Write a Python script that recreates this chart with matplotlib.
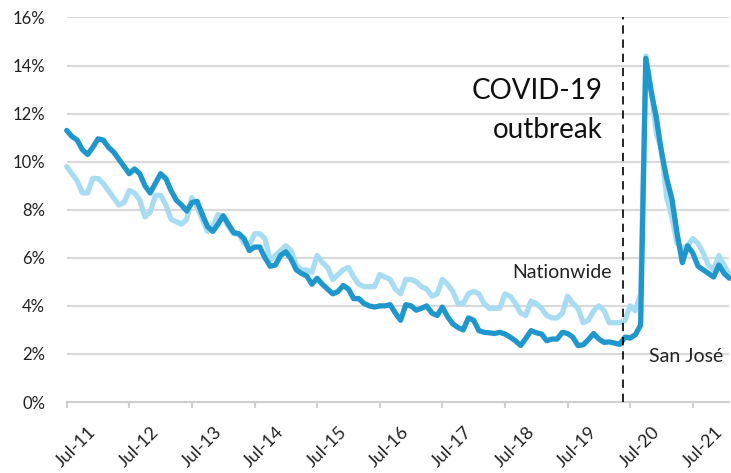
import matplotlib
matplotlib.use('Agg')
import matplotlib.pyplot as plt
import matplotlib.transforms as mtransforms
import numpy as np

plt.rcParams['font.family'] = ['Lato', 'DejaVu Sans']

# Monthly unemployment rate (%), Jan 2011 - Aug 2021
nationwide = [
    9.8, 9.5, 9.2, 8.7, 8.7, 9.3, 9.3, 9.1, 8.8, 8.5, 8.2, 8.3,
    8.8, 8.7, 8.4, 7.7, 7.9, 8.6, 8.6, 8.2, 7.6, 7.5, 7.4, 7.6,
    8.5, 8.1, 7.6, 7.1, 7.3, 7.8, 7.7, 7.3, 7.0, 7.0, 6.6, 6.5,
    7.0, 7.0, 6.8, 5.9, 6.1, 6.3, 6.5, 6.3, 5.7, 5.5, 5.5, 5.4,
    6.1, 5.8, 5.6, 5.1, 5.3, 5.5, 5.6, 5.2, 4.9, 4.8, 4.8, 4.8,
    5.3, 5.2, 5.1, 4.7, 4.5, 5.1, 5.1, 5.0, 4.8, 4.7, 4.4, 4.5,
    5.1, 4.9, 4.6, 4.1, 4.1, 4.5, 4.6, 4.5, 4.1, 3.9, 3.9, 3.9,
    4.5, 4.4, 4.1, 3.7, 3.6, 4.2, 4.1, 3.9, 3.6, 3.5, 3.5, 3.7,
    4.4, 4.1, 3.9, 3.3, 3.4, 3.8, 4.0, 3.8, 3.3, 3.3, 3.3, 3.4,
    4.0, 3.8, 4.5, 14.4, 13.0, 11.2, 10.5, 8.5, 7.7, 6.6, 6.4, 6.5,
    6.8, 6.6, 6.2, 5.7, 5.5, 6.1, 5.7, 5.3,
]
san_jose = [
    11.3, 11.05, 10.9, 10.5, 10.3, 10.6, 10.95, 10.9, 10.6, 10.4, 10.1, 9.8,
    9.5, 9.7, 9.5, 9.0, 8.7, 9.1, 9.5, 9.3, 8.8, 8.4, 8.2, 7.95,
    8.3, 8.35, 7.8, 7.3, 7.1, 7.4, 7.75, 7.4, 7.05, 7.0, 6.8, 6.3,
    6.45, 6.45, 6.0, 5.65, 5.7, 6.1, 6.25, 5.95, 5.5, 5.35, 5.25, 4.9,
    5.15, 4.9, 4.7, 4.5, 4.6, 4.85, 4.7, 4.3, 4.3, 4.1, 4.0, 3.95,
    4.0, 4.0, 4.05, 3.7, 3.4, 4.05, 4.0, 3.82, 3.9, 4.0, 3.7, 3.6,
    3.95, 3.55, 3.25, 3.1, 3.0, 3.5, 3.4, 2.97, 2.9, 2.88, 2.85, 2.9,
    2.83, 2.7, 2.55, 2.35, 2.65, 2.97, 2.88, 2.83, 2.55, 2.62, 2.62, 2.9,
    2.85, 2.7, 2.35, 2.38, 2.6, 2.85, 2.62, 2.48, 2.5, 2.45, 2.4, 2.7,
    2.66, 2.8, 3.2, 14.3, 12.95, 11.85, 10.4, 9.3, 8.45, 7.0, 5.8, 6.5,
    6.2, 5.65, 5.5, 5.35, 5.2, 5.7, 5.35, 5.15,
]
tick_labels = ['Jul-11', 'Jul-12', 'Jul-13', 'Jul-14', 'Jul-15', 'Jul-16',
               'Jul-17', 'Jul-18', 'Jul-19', 'Jul-20', 'Jul-21']
y_ticks = [0, 2, 4, 6, 8, 10, 12, 14, 16]
covid_month = 106.7

x = np.arange(len(san_jose))

fig = plt.figure(figsize=(7.31, 4.73), dpi=100)
ax = fig.add_axes([66.7 / 731, 71 / 473, (729.3 - 66.7) / 731, 384.5 / 473])

light = '#a8dcf2'
dark = '#1f97cc'
ax.plot(x, nationwide, color=light, lw=3.8, solid_joinstyle='round',
        solid_capstyle='round', clip_on=False, zorder=3)
ax.plot(x, san_jose, color=dark, lw=3.8, solid_joinstyle='round',
        solid_capstyle='round', clip_on=False, zorder=4)

ax.set_xlim(0, len(san_jose) - 1)
ax.set_ylim(0, 16)
ax.set_yticks(y_ticks)
ax.set_yticklabels([f'{v}%' for v in y_ticks])
ax.yaxis.grid(True, color='#d9d9d9', lw=1.5)
ax.set_axisbelow(True)

for s in ['top', 'right', 'left']:
    ax.spines[s].set_visible(False)
ax.spines['bottom'].set_color('#d0d0d0')
ax.spines['bottom'].set_linewidth(1.5)

ax.tick_params(axis='y', length=0, pad=15.5, labelsize=12, labelcolor='#222222')
ax.tick_params(axis='x', length=4, width=1.5, color='#d0d0d0', direction='out',
               pad=16, labelsize=13, labelcolor='#222222')

ax.set_xticks(np.arange(0, 121, 12))
ax.set_xticklabels(tick_labels, rotation=45, rotation_mode='anchor',
                   ha='right', va='center')
offset = mtransforms.ScaledTranslation(0.27, 0, fig.dpi_scale_trans)
for lab in ax.get_xticklabels():
    lab.set_transform(lab.get_transform() + offset)

ax.axvline(covid_month, color='black', lw=1.2, linestyle=(0, (5, 3.5)), zorder=5,
           clip_on=False)

ax.text(102.8, 12.6, 'COVID-19', ha='right', va='baseline', fontsize=20, color='#111111')
ax.text(102.8, 11.0, 'outbreak', ha='right', va='baseline', fontsize=20, color='#111111')
ax.text(104.5, 5.16, 'Nationwide', ha='right', va='baseline', fontsize=14, color='#222222')
ax.text(111.6, 1.68, 'San José', ha='left', va='baseline', fontsize=14, color='#222222')

fig.savefig('out.png', dpi=100)
